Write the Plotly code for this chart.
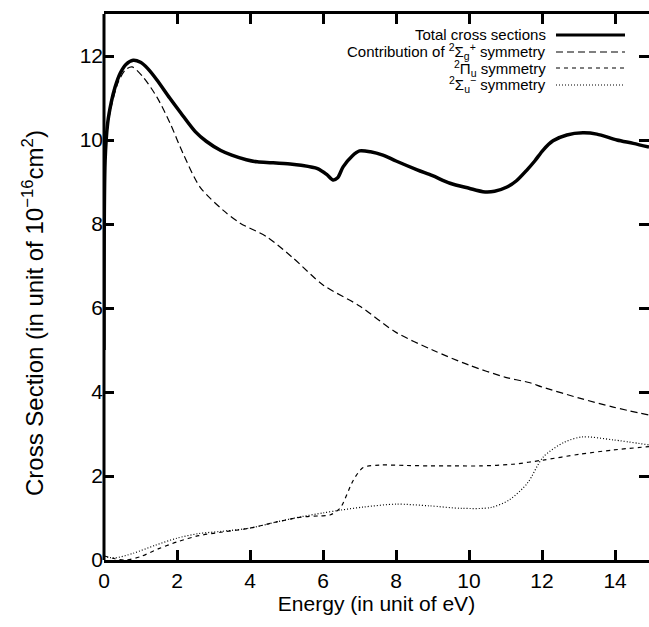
import plotly.graph_objects as go

# Total cross sections
tot_x = [0, 0.03, 0.1, 0.2, 0.3, 0.45, 0.6, 0.8, 1.0, 1.2, 1.45, 1.8, 2.1, 2.5, 2.8, 3.2, 3.5, 3.9, 4.2,
         4.6, 5.1, 5.4, 5.85, 6.1, 6.27, 6.4, 6.55, 6.8, 7.0, 7.3, 7.64, 8.0, 8.58, 9.0, 9.48, 10.0, 10.38,
         10.7, 11.04, 11.3, 11.59, 11.8, 12.03, 12.3, 12.68, 13.12, 13.5, 14.05, 14.5, 14.93]
tot_y = [5.0, 9.5, 10.4, 10.9, 11.25, 11.6, 11.8, 11.9, 11.85, 11.7, 11.43, 11.0, 10.65, 10.2, 9.97, 9.75,
         9.64, 9.53, 9.48, 9.46, 9.43, 9.40, 9.32, 9.18, 9.05, 9.1, 9.36, 9.62, 9.74, 9.72, 9.64, 9.5, 9.29,
         9.15, 8.97, 8.85, 8.77, 8.78, 8.88, 9.03, 9.29, 9.5, 9.76, 9.98, 10.12, 10.17, 10.14, 10.0, 9.92, 9.83]

# Contribution of 2Sigma_g+ symmetry
sg_x = [0, 0.03, 0.1, 0.2, 0.4, 0.6, 0.77, 1.07, 1.45, 1.81, 2.16, 2.63, 3.26, 3.73, 4.47, 5.18, 6.0,
        7.0, 8.0, 9.0, 10.0, 11.0, 11.67, 12.0, 13.0, 13.95, 14.93]
sg_y = [5.0, 9.4, 10.3, 10.8, 11.4, 11.68, 11.74, 11.5, 11.02, 10.4, 9.69, 8.88, 8.33, 8.02, 7.69, 7.19,
        6.55, 6.05, 5.42, 5.0, 4.64, 4.35, 4.22, 4.12, 3.86, 3.64, 3.45]

# 2Pi_u symmetry
pi_x = [0, 0.3, 0.6, 1.0, 1.5, 2.0, 2.6, 3.2, 4.0, 4.7, 5.4, 5.9, 6.19, 6.47, 6.83, 7.1, 7.56, 8.3,
        8.93, 9.6, 10.3, 11.2, 12.03, 13.04, 13.95, 14.93]
pi_y = [0.1, 0.03, 0.0, 0.08, 0.27, 0.43, 0.58, 0.66, 0.76, 0.9, 1.02, 1.05, 1.07, 1.24, 1.9, 2.2, 2.26,
        2.25, 2.24, 2.24, 2.24, 2.28, 2.38, 2.52, 2.62, 2.7]

# 2Sigma_u- symmetry
su_x = [0, 0.3, 0.8, 1.4, 2.0, 2.6, 3.2, 4.0, 4.7, 5.4, 6.0, 6.5, 7.1, 8.0, 8.9, 9.8, 10.6, 11.1, 11.6,
        12.03, 12.6, 13.1, 13.95, 14.93]
su_y = [0.08, 0.05, 0.16, 0.35, 0.52, 0.63, 0.68, 0.76, 0.9, 1.03, 1.12, 1.19, 1.26, 1.33, 1.29, 1.23,
        1.25, 1.43, 1.83, 2.45, 2.8, 2.93, 2.86, 2.74]

legend_labels = ["Total cross sections",
                 "Contribution of <sup>2</sup>Σ<sub>g</sub><sup>+</sup> symmetry",
                 "<sup>2</sup>Π<sub>u</sub> symmetry",
                 "<sup>2</sup>Σ<sub>u</sub><sup>−</sup> symmetry"]

x_ticks = [0, 2, 4, 6, 8, 10, 12, 14]
y_ticks = [0, 2, 4, 6, 8, 10, 12]

series = [
    (tot_x, tot_y, dict(color="black", width=3.5, dash="solid")),
    (sg_x, sg_y, dict(color="black", width=1.2, dash="7px,4px")),
    (pi_x, pi_y, dict(color="black", width=1.2, dash="4px,4px")),
    (su_x, su_y, dict(color="black", width=1.2, dash="1px,2px")),
]

fig = go.Figure()
for (xs, ys, ln), lab in zip(series, legend_labels):
    fig.add_trace(go.Scatter(x=xs, y=ys, mode="lines", name=lab,
                             line=dict(shape="spline", smoothing=0.8, **ln), showlegend=False))

# Legend drawn at top right: text then sample line
row_y = [35, 52, 68, 85]
plot_top, plot_h, plot_left, plot_w = 14, 546, 104, 545
for (xs, ys, ln), lab, py in zip(series, legend_labels, row_y):
    yp = 1 - (py - plot_top) / plot_h
    fig.add_annotation(xref="paper", yref="paper", x=(548 - plot_left) / plot_w, y=yp,
                       text=lab, showarrow=False, xanchor="right", yanchor="middle",
                       font=dict(family="Liberation Sans", size=15, color="black"))
    fig.add_shape(type="line", xref="paper", yref="paper",
                  x0=(556 - plot_left) / plot_w, x1=(625 - plot_left) / plot_w, y0=yp, y1=yp,
                  line=dict(color=ln["color"], width=ln["width"] if ln["width"] < 3 else 3, dash=ln["dash"]))

# y-axis title placed as rotated text
fig.add_annotation(xref="paper", yref="paper",
                   x=(33 - plot_left) / plot_w, y=1 - (313 - plot_top) / plot_h,
                   text="Cross Section (in unit of 10<sup>−16</sup>cm<sup>2</sup>)", textangle=-90,
                   showarrow=False, xanchor="center", yanchor="middle",
                   font=dict(family="Liberation Sans", size=24, color="black"))

# left axis line
fig.add_shape(type="line", xref="paper", yref="paper", x0=0, x1=0, y0=0, y1=1,
              line=dict(color="black", width=3))

fig.update_layout(
    width=649, height=627,
    margin=dict(l=104, r=0, t=14, b=67),
    paper_bgcolor="white", plot_bgcolor="white",
    font=dict(family="Liberation Sans", size=21, color="black"),
    xaxis=dict(range=[0, 14.93], tickvals=x_ticks, ticks="inside", ticklen=10, tickwidth=2.5,
               tickcolor="black", showline=True, linewidth=3, linecolor="black", mirror="ticks",
               showgrid=False, zeroline=False, tickfont=dict(size=21),
               title=dict(text="Energy (in unit of eV)", standoff=4, font=dict(size=21))),
    yaxis=dict(range=[0, 13], tickvals=y_ticks, ticks="inside", ticklen=10, tickwidth=2.5,
               tickcolor="black", showline=False, mirror="ticks", tickfont=dict(size=21),
               showgrid=False, zeroline=False),
)

fig.write_html("out.html")
